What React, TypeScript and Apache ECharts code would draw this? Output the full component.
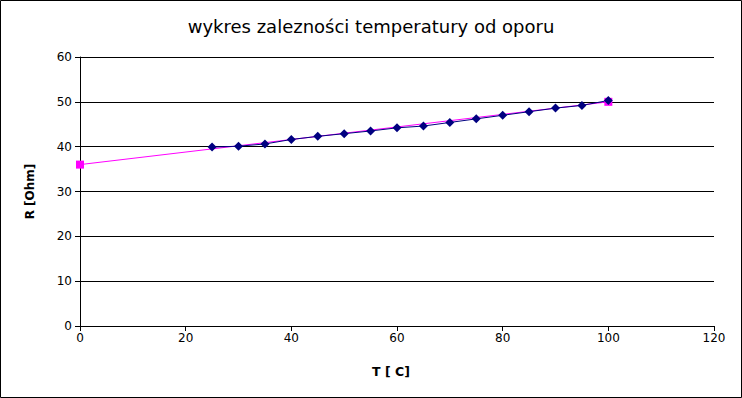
import React, { useEffect, useRef } from "react";
import * as echarts from "echarts";

const measuredT = [25, 30, 35, 40, 45, 50, 55, 60, 65, 70, 75, 80, 85, 90, 95, 100];
const measuredR = [39.9, 40.1, 40.6, 41.6, 42.3, 42.9, 43.5, 44.2, 44.6, 45.4, 46.2, 47.0, 47.8, 48.6, 49.2, 50.3];
const fitT = [0, 100];
const fitR = [36, 50];

const titleText = "wykres zalezności temperatury od oporu";
const xName = "T [ C]";
const yName = "R [Ohm]";

export default function App() {
  const ref = useRef<HTMLDivElement>(null);
  useEffect(() => {
    document.body.style.margin = "0";
    const chart = echarts.init(ref.current!, null, { renderer: "svg" });
    const font = "DejaVu Sans";
    chart.setOption({
      animation: false,
      backgroundColor: "#ffffff",
      textStyle: { fontFamily: font },
      title: {
        text: titleText,
        left: "center",
        top: 12,
        textStyle: { fontFamily: font, fontSize: 18, fontWeight: "normal", color: "#000" },
      },
      graphic: [
        {
          type: "rect",
          shape: { x: 0.5, y: 0.5, width: 741, height: 397 },
          style: { fill: "none", stroke: "#000", lineWidth: 1 },
          silent: true,
        },
      ],
      grid: { left: 80, right: 28, top: 57, bottom: 72 },
      xAxis: {
        type: "value",
        min: 0,
        max: 120,
        interval: 20,
        name: xName,
        nameLocation: "middle",
        nameGap: 39,
        nameTextStyle: {
          fontFamily: font,
          fontSize: 12.5,
          fontWeight: "bold",
          color: "#000",
          padding: [0, 12, 0, 0],
        },
        axisLine: { show: true, lineStyle: { color: "#000", width: 1 } },
        axisTick: { show: true, length: 5, lineStyle: { color: "#000" } },
        axisLabel: { fontFamily: font, fontSize: 12, color: "#000", margin: 6 },
        splitLine: { show: false },
      },
      yAxis: {
        type: "value",
        min: 0,
        max: 60,
        interval: 10,
        name: yName,
        nameLocation: "middle",
        nameRotate: 90,
        nameGap: 44,
        nameTextStyle: { fontFamily: font, fontSize: 12, fontWeight: "bold", color: "#000" },
        axisLine: { show: true, lineStyle: { color: "#000", width: 1 } },
        axisTick: { show: true, length: 5, lineStyle: { color: "#000" } },
        axisLabel: { fontFamily: font, fontSize: 12, color: "#000", margin: 8 },
        splitLine: { show: true, lineStyle: { color: "#000", width: 1 } },
      },
      series: [
        {
          type: "line",
          data: fitT.map((t, i) => [t, fitR[i]]),
          symbol: "rect",
          symbolSize: 8,
          lineStyle: { color: "#ff00ff", width: 1 },
          itemStyle: { color: "#ff00ff" },
        },
        {
          type: "line",
          data: measuredT.map((t, i) => [t, measuredR[i]]),
          symbol: "diamond",
          symbolSize: 9,
          lineStyle: { color: "#000080", width: 1 },
          itemStyle: { color: "#000080" },
        },
      ],
    });
    return () => chart.dispose();
  }, []);
  return <div ref={ref} style={{ width: 742, height: 398 }} />;
}
